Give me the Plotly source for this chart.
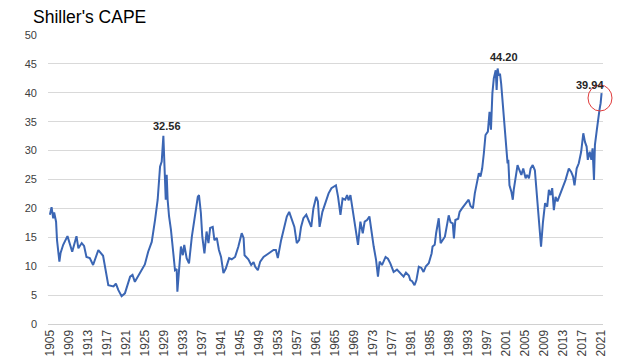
import plotly.graph_objects as go

# Decimal year positions and CAPE values
years = [
    1905.0, 1905.35, 1905.7, 1905.9, 1906.3, 1906.5, 1907.0, 1907.25, 1907.8, 1908.7,
    1909.7, 1910.6, 1911.0, 1911.7, 1912.2, 1912.7, 1913.4, 1914.1, 1915.2, 1916.2,
    1917.3, 1918.4, 1918.9, 1919.4, 1920.1, 1920.8, 1921.9, 1922.4, 1922.9, 1924.0,
    1925.0, 1925.7, 1926.45, 1927.15, 1927.7, 1928.2, 1928.55, 1928.9, 1929.1, 1929.4,
    1929.6, 1929.8, 1930.1, 1930.5, 1931.0, 1931.35, 1931.7, 1931.85, 1932.2, 1932.6,
    1933.0, 1933.3, 1933.8, 1934.3, 1934.9, 1935.6, 1936.15, 1936.4, 1936.8, 1937.1,
    1937.55, 1938.0, 1938.4, 1938.75, 1939.3, 1939.65, 1940.15, 1940.6, 1941.05, 1941.55,
    1942.05, 1942.75, 1943.3, 1944.0, 1944.7, 1945.4, 1945.8, 1946.0, 1946.5, 1946.8,
    1947.4, 1947.9, 1948.25, 1948.8, 1949.3, 1950.0, 1951.05, 1952.1, 1952.6, 1953.0,
    1953.7, 1954.4, 1954.9, 1955.4, 1956.0, 1956.5, 1957.0, 1957.5, 1957.9, 1958.4,
    1959.0, 1959.5, 1960.05, 1960.5, 1961.1, 1961.45, 1961.8, 1962.4, 1963.0, 1963.7,
    1964.3, 1964.75, 1965.25, 1965.7, 1966.2, 1966.65, 1967.2, 1967.6, 1967.9, 1968.3,
    1968.6, 1969.0, 1969.3, 1969.9, 1970.4, 1970.9, 1971.3, 1971.8, 1972.3, 1972.7,
    1973.2, 1973.7, 1974.1, 1974.45, 1974.95, 1975.7, 1976.2, 1976.7, 1977.4, 1978.1,
    1978.8, 1979.5, 1980.0, 1980.6, 1980.9, 1981.3, 1981.8, 1982.2, 1982.7, 1983.25,
    1983.7, 1984.2, 1984.8, 1985.4, 1985.6, 1986.05, 1986.35, 1986.8, 1986.9, 1987.3,
    1987.75, 1988.2, 1988.7, 1989.0, 1989.4, 1989.85, 1990.1, 1990.4, 1991.0, 1991.3,
    1991.8, 1992.2, 1992.7, 1993.2, 1993.6, 1994.1, 1994.5, 1995.0, 1995.35, 1995.7,
    1996.05, 1996.4, 1996.75, 1997.25, 1997.6, 1997.9, 1998.2, 1998.5, 1998.9, 1999.1,
    1999.3, 1999.55, 1999.8, 2000.05, 2000.4, 2000.8, 2001.2, 2001.4, 2001.55, 2001.8,
    2002.2, 2002.5, 2002.7, 2003.1, 2003.5, 2003.9, 2004.3, 2004.7, 2005.2, 2005.5,
    2005.9, 2006.25, 2006.7, 2007.15, 2007.45, 2007.9, 2008.15, 2008.45, 2008.85, 2009.3,
    2009.75, 2010.1, 2010.45, 2010.8, 2011.15, 2011.5, 2011.9, 2012.4, 2012.9, 2013.6,
    2014.3, 2014.8, 2015.2, 2015.5, 2015.95, 2016.4, 2016.9, 2017.35, 2017.7, 2018.05,
    2018.3, 2018.7, 2019.05, 2019.3, 2019.6, 2019.8, 2020.2, 2020.45, 2020.75, 2021.0,
    2021.2,
]
cape = [
    18.9, 20.2, 18.3, 19.3, 17.7, 14.5, 10.8, 12.3, 13.7, 15.2,
    12.5, 15.2, 13.1, 14.0, 13.5, 11.6, 11.4, 10.2, 12.8, 11.8,
    6.7, 6.5, 7.0, 5.9, 4.8, 5.3, 8.2, 8.5, 7.3, 8.8,
    10.3, 12.5, 14.2, 18.0, 21.5, 27.2, 28.1, 32.56, 28.0, 21.5,
    25.8, 21.5, 18.6, 16.3, 12.2, 9.3, 9.5, 5.6, 9.3, 13.4,
    11.9, 13.7, 11.4, 10.5, 15.1, 18.6, 22.0, 22.3, 19.2, 15.1,
    12.2, 16.0, 14.0, 16.6, 16.8, 14.5, 14.9, 12.8, 11.6, 8.8,
    9.6, 11.4, 11.2, 11.6, 13.4, 15.7, 14.9, 11.9, 11.4, 11.2,
    10.2, 10.7, 9.9, 9.3, 10.8, 11.6, 12.2, 12.8, 12.8, 11.4,
    14.5, 16.8, 18.6, 19.4, 18.0, 16.8, 14.0, 14.5, 16.8, 18.3,
    18.9, 18.0, 16.8, 20.0, 22.0, 21.2, 16.8, 19.4, 20.9, 22.6,
    23.5, 23.8, 24.0, 22.0, 18.9, 21.7, 21.5, 22.3, 21.4, 22.3,
    20.8, 18.9, 16.8, 13.7, 17.7, 15.7, 17.7, 18.0, 18.6, 16.0,
    13.4, 11.1, 8.2, 10.8, 10.2, 11.6, 11.3, 10.5, 9.0, 9.4,
    8.8, 8.2, 8.9, 8.4, 7.6, 7.4, 6.7, 7.6, 9.9, 9.7,
    9.0, 10.0, 10.5, 12.2, 13.4, 13.7, 15.7, 18.0, 18.3, 14.0,
    14.5, 15.1, 17.4, 18.8, 17.6, 17.4, 14.8, 18.0, 18.2, 19.4,
    20.0, 20.4, 20.9, 21.5, 20.4, 20.0, 22.6, 24.6, 26.1, 25.5,
    26.9, 29.5, 32.7, 33.3, 36.7, 33.6, 39.9, 42.5, 43.9, 40.5,
    44.2, 43.0, 43.3, 41.6, 37.6, 33.0, 30.1, 27.8, 28.4, 24.0,
    22.9, 21.5, 23.2, 25.8, 27.5, 26.6, 25.8, 26.9, 25.2, 25.8,
    25.2, 26.9, 27.5, 26.6, 23.8, 19.7, 16.3, 13.4, 17.6, 20.9,
    20.3, 23.2, 22.3, 23.5, 19.7, 22.0, 21.2, 22.3, 23.2, 24.9,
    26.9, 26.3, 25.5, 24.0, 26.9, 27.8, 29.8, 33.0, 31.5, 30.7,
    28.4, 29.8, 28.4, 30.4, 24.9, 31.0, 33.6, 35.6, 37.0, 38.2,
    39.94,
]

tick_years = list(range(1905, 2022, 4))
tick_labels = [str(y) for y in tick_years]
y_ticks = list(range(0, 51, 5))

peak_years = [1929.6, 2000.6, 2018.7]
peak_label_y = [34.3, 46.2, 41.3]
peak_labels = ["32.56", "44.20", "39.94"]

fig = go.Figure()
fig.add_trace(go.Scatter(
    x=years, y=cape, mode="lines",
    line=dict(color="#3b66b4", width=2),
    hoverinfo="skip", showlegend=False,
))

for px, py, txt in zip(peak_years, peak_label_y, peak_labels):
    fig.add_annotation(x=px, y=py, xref="x", yref="y", text="<b>" + txt + "</b>",
                       showarrow=False, font=dict(family="Liberation Sans, Arial", size=11, color="#262626"))

# red highlight circle around latest value
fig.add_shape(type="circle", xref="paper", yref="paper",
              x0=0.973, x1=1.0162, y0=0.737, y1=0.827,
              line=dict(color="#e03c3c", width=1))

# the page body adds an 8px offset, so margins are shifted to compensate
fig.update_layout(
    width=644, height=360,
    margin=dict(l=40, r=49, t=27, b=44, pad=0, autoexpand=False),
    paper_bgcolor="white", plot_bgcolor="white",
    title=dict(text="Shiller's CAPE", xref="container", yref="container",
               x=25 / 644, xanchor="left", y=1 - 8.5 / 360, yanchor="middle",
               font=dict(family="Liberation Sans, Arial", size=17.5, color="#000000")),
    xaxis=dict(range=[1904.6, 2021.5], tickmode="array", tickvals=tick_years,
               ticktext=tick_labels, tickangle=-90, showgrid=False, zeroline=False,
               showline=True, linecolor="#d0d0d0", linewidth=1, ticks="",
               automargin=False,
               tickfont=dict(family="Liberation Sans, Arial", size=12, color="#404040")),
    yaxis=dict(range=[0, 50], tickmode="array", tickvals=y_ticks, showgrid=True,
               gridcolor="#d9d9d9", gridwidth=1, zeroline=False, showline=False, ticks="",
               ticklabelstandoff=10, automargin=False,
               tickfont=dict(family="Liberation Sans, Arial", size=11, color="#404040")),
)

fig.write_html("out.html")
